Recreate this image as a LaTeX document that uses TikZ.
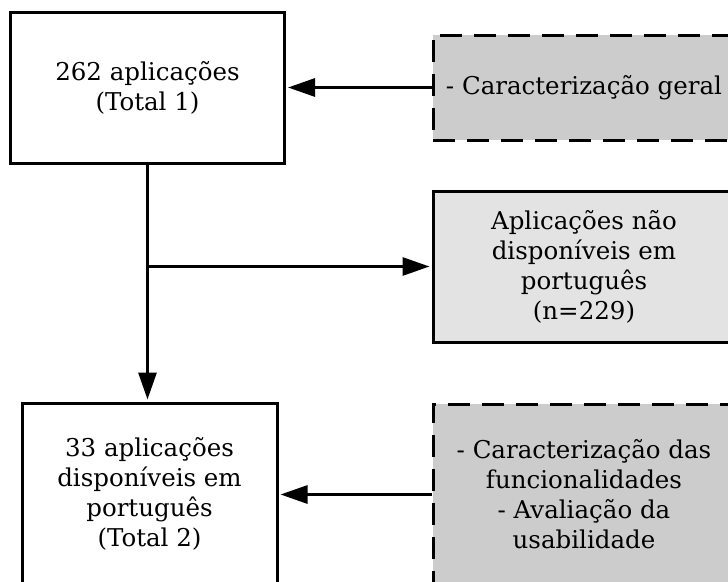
\documentclass[tikz,border=0pt]{standalone}
\usepackage{fontspec}
\setmainfont{DejaVu Serif}
\usetikzlibrary{arrows.meta}
\definecolor{fillB}{HTML}{CCCCCC}
\definecolor{fillC}{HTML}{E3E3E3}
\begin{document}
\begin{tikzpicture}[x=1pt,y=-1pt,
  box/.style={draw=black,line width=3pt,align=center,inner sep=0pt,font=\fontsize{24.5}{30}\selectfont},
  dashbox/.style={box,dash pattern=on 22pt off 12pt,fill=fillB},
  conn/.style={line width=3pt,shorten >=2pt,-{Triangle[length=27pt,width=18pt]}}]
\useasboundingbox (0,0) rectangle (728,581);
\clip (0,0) rectangle (728,581);
\node[box,minimum width=274pt,minimum height=151pt] (a) at (147.5,87.5) {262 aplicações\\(Total 1)};
\node[dashbox,minimum width=302pt,minimum height=105pt] (b) at (584,87.5) {- Caracterização geral};
\node[box,fill=fillC,minimum width=302pt,minimum height=151pt] (c) at (584,266.5) {Aplicações não\\disponíveis em\\português\\(n=229)};
\node[box,minimum width=255pt,minimum height=182pt] (d) at (149.5,494) {33 aplicações\\disponíveis em\\português\\(Total 2)};
\node[dashbox,minimum width=302pt,minimum height=181pt] (e) at (584,494.5) {- Caracterização das\\funcionalidades\\- Avaliação da\\usabilidade};
\draw[conn] (b.west) -- (a.east);
\draw[conn] (a.south) -- (a.south |- d.north);
\coordinate (j) at (a.south |- c.west);
\draw[conn] (j) -- (c.west);
\draw[conn] (e.west) -- (e.west -| d.east);
\end{tikzpicture}
\end{document}
